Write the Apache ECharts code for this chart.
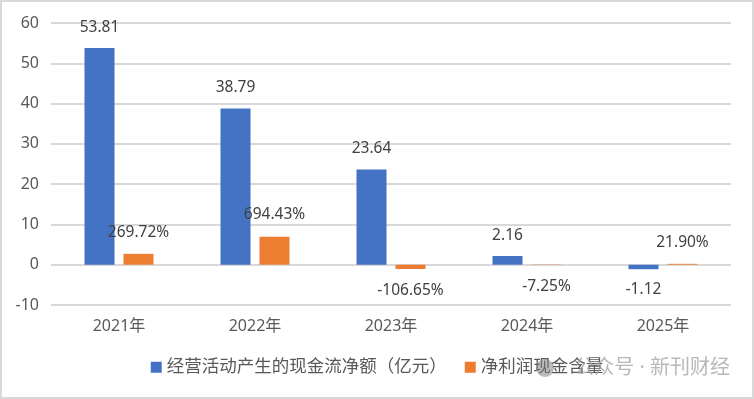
<!DOCTYPE html>
<html>
<head>
<meta charset="utf-8">
<script src="https://cdn.jsdelivr.net/npm/echarts@6/dist/echarts.min.js"></script>
<style>
    html, body { margin: 0; padding: 0; background: #fff; }
    #chart { width: 754px; height: 399px; box-sizing: border-box; border: 2px solid #d9d9d9; }
</style>
</head>
<body>
<div id="chart"></div>
<script>
    // 年份
    var years = ['2021年', '2022年', '2023年', '2024年', '2025年'];
    // 经营活动产生的现金流净额（亿元）
    var cashFlow = [53.81, 38.79, 23.64, 2.16, -1.12];
    // 净利润现金含量（倍数，标签显示为百分比）
    var cashRatio = [2.6972, 6.9443, -1.0665, -0.0725, 0.2190];
    var yTicks = { min: -10, max: 60, interval: 10 };

    var font = '"Noto Sans", "Noto Sans CJK SC", sans-serif';

    function withLabels(values, dist, fmt) {
        return values.map(function (v) {
            return {
                value: v,
                label: { position: v < 0 ? 'bottom' : 'top', distance: dist, formatter: fmt }
            };
        });
    }

    var chart = echarts.init(document.getElementById('chart'));
    chart.setOption({
        animation: false,
        textStyle: { fontFamily: font },
        grid: { left: 49, right: 21, top: 21, bottom: 92 },
        legend: {
            bottom: 16,
            left: 'center',
            itemWidth: 11,
            itemHeight: 11,
            itemGap: 18,
            icon: 'rect',
            textStyle: { fontSize: 17.5, color: '#595959', fontFamily: font },
            data: ['经营活动产生的现金流净额（亿元）', '净利润现金含量']
        },
        xAxis: {
            type: 'category',
            data: years,
            axisLine: { show: false, onZero: false },
            axisTick: { show: false },
            axisLabel: { fontSize: 16, color: '#595959', margin: 13 }
        },
        yAxis: {
            type: 'value',
            min: yTicks.min,
            max: yTicks.max,
            interval: yTicks.interval,
            axisLine: { show: false },
            axisTick: { show: false },
            axisLabel: { fontSize: 16, color: '#595959', margin: 12 },
            splitLine: { lineStyle: { color: '#d9d9d9', width: 2 } }
        },
        series: [
            {
                name: '经营活动产生的现金流净额（亿元）',
                type: 'bar',
                barWidth: 30,
                barGap: '30%',
                itemStyle: { color: '#4472c4' },
                label: { show: true, fontSize: 15.5, color: '#404040' },
                data: withLabels(cashFlow, 13, function (p) { return p.value.toFixed(2); })
            },
            {
                name: '净利润现金含量',
                type: 'bar',
                barWidth: 30,
                itemStyle: { color: '#ed7d31' },
                label: { show: true, fontSize: 15.5, color: '#404040' },
                data: withLabels(cashRatio, 14, function (p) { return (p.value * 100).toFixed(2) + '%'; })
            }
        ],
        graphic: [
            {
                type: 'circle',
                shape: { cx: 543, cy: 366, r: 9 },
                style: { fill: 'rgba(120,120,120,0.5)' },
                z: 100
            },
            {
                type: 'text',
                right: 22,
                top: 356,
                style: {
                    text: '公众号 · 新刊财经',
                    fontSize: 20,
                    fontFamily: font,
                    fill: 'rgba(160,160,160,0.75)'
                },
                z: 100
            }
        ]
    });
</script>
</body>
</html>
